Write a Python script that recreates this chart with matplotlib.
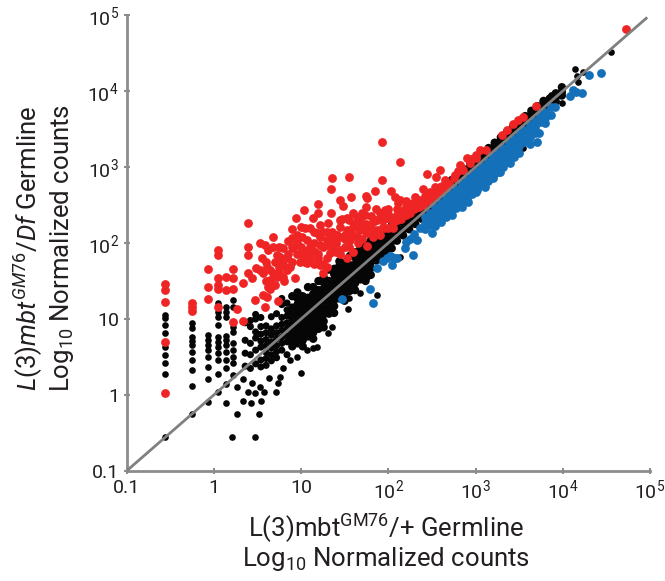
import numpy as np
import matplotlib
matplotlib.use("Agg")
import matplotlib.pyplot as plt

plt.rcParams['font.family'] = ['Roboto', 'Liberation Sans', 'DejaVu Sans']
plt.rcParams['mathtext.fontset'] = 'custom'
plt.rcParams['mathtext.rm'] = 'Roboto'
plt.rcParams['mathtext.it'] = 'Roboto:italic'

# all point values are log10 counts
# black: single points that can be made out
black_x = [-0.555]*9 + [-0.25]*10 + [-0.07]*8 + [0.045]*11 + [0.14]*11 + [0.224]*9 + [
    0.209, 0.472, 0.514, 0.27, 0.339, 0.423, 0.541, 0.472, 0.579, 0.713, 0.732, 0.759, 0.633,
    0.53, 0.434, 0.396, 0.339, 0.27, 0.793, 0.996,
    4.558, 4.142, 4.176, 4.233, 4.164, 3.996, 3.87, 3.996, 3.775, 3.546, 2.133,
    1.179, 1.312, 1.35, 1.541, 1.553, 1.675, 1.866, 1.751, 1.064, 1.14, 0.95, 0.873]
black_y = [1.053, 1.009, 0.921, 0.811, 0.636, 0.526, 0.426, 0.272, -0.557,
    0.943, 0.877, 0.768, 0.715, 0.658, 0.57, 0.461, 0.329, 0.119, -0.25,
    0.79, 0.724, 0.658, 0.592, 0.505, 0.373, 0.206, -0.088,
    1.206, 1.097, 1.022, 0.921, 0.768, 0.702, 0.636, 0.557, 0.461, 0.272, 0.044,
    1.162, 1.097, 1.031, 0.776, 0.724, 0.658, 0.57, 0.461, 0.351, 0.145, -0.109,
    1.25, 1.162, 0.899, 0.833, 0.68, 0.592, 0.505, 0.417, 0.263,
    -0.557, -0.557, -0.25, -0.25, -0.079, -0.109, -0.079, 0.031, 0.044, 0.044, 0.154, 0.233, 0.22,
    0.11, 0.154, 0.044, 0.206, 0.11, 0.351, 0.285,
    4.517, 4.285, 4.122, 4.254, 4.197, 4.035, 3.947, 3.837, 3.859, 3.245, 1.82,
    0.636, 0.81, 0.9, 1.132, 1.272, 1.338, 1.316, 1.557, 0.592, 0.614, 0.505, 0.46]

# black: the packed cloud, where points are estimated column by column
cloud_x = [0.36, 0.42, 0.48, 0.54, 0.6, 0.66, 0.72, 0.78, 0.84, 0.9, 0.96, 1.02, 1.08, 1.14, 1.2,
           1.26, 1.32, 1.38, 1.44, 1.5, 1.56, 1.62, 1.68, 1.74, 1.8, 1.86, 1.92, 1.98, 2.04, 2.1]
cloud_y = [
    [0.38, 0.55, 0.72, 0.95],
    [0.35, 0.53, 0.68, 0.9, 0.98],
    [0.41, 0.59, 0.75, 0.83, 1.0, 1.06],
    [0.37, 0.46, 0.63, 0.71, 0.8, 0.9, 1.02],
    [0.39, 0.48, 0.56, 0.65, 0.73, 0.82, 0.91],
    [0.45, 0.53, 0.62, 0.7, 0.79, 0.87, 1.03],
    [0.49, 0.57, 0.65, 0.74, 0.82, 0.91, 1.07],
    [0.59, 0.68, 0.76, 0.85, 0.93, 1.02, 1.19, 1.27],
    [0.53, 0.7, 0.78, 0.87, 0.95, 1.04, 1.12, 1.21],
    [0.64, 0.72, 0.81, 0.89, 0.98, 1.06, 1.15, 1.3],
    [0.68, 0.76, 0.85, 0.93, 1.02, 1.1, 1.19, 1.27, 1.35],
    [0.64, 0.72, 0.81, 0.89, 0.98, 1.06, 1.15, 1.23, 1.3],
    [0.77, 0.85, 0.94, 1.02, 1.11, 1.19, 1.28, 1.42],
    [0.74, 0.82, 0.91, 0.99, 1.08, 1.16, 1.25, 1.33, 1.42],
    [0.87, 0.96, 1.04, 1.13, 1.21, 1.3, 1.38, 1.5],
    [0.89, 0.97, 1.06, 1.14, 1.23, 1.31, 1.4, 1.48, 1.55],
    [1.07, 1.15, 1.24, 1.32, 1.41, 1.5, 1.65],
    [1.08, 1.17, 1.25, 1.34, 1.42, 1.51, 1.59, 1.66],
    [1.27, 1.35, 1.44, 1.52, 1.61, 1.7, 1.76],
    [1.24, 1.32, 1.41, 1.49, 1.58, 1.66, 1.74],
    [1.37, 1.46, 1.54, 1.63, 1.71, 1.83],
    [1.38, 1.47, 1.55, 1.64, 1.72, 1.81, 1.88],
    [1.52, 1.61, 1.69, 1.78, 1.86, 1.93],
    [1.5, 1.59, 1.67, 1.76, 1.84, 1.93, 1.98],
    [1.58, 1.67, 1.75, 1.84, 1.92, 2.0, 2.03],
    [1.77, 1.85, 1.94, 2.02, 2.08],
    [1.78, 1.87, 1.95, 2.04, 2.13],
    [1.84, 1.92, 2.01, 2.09, 2.18],
    [1.93, 2.02, 2.1, 2.18, 2.23],
    [2.03, 2.11, 2.2, 2.28],
]

# black: narrow part of the band, mostly hidden under the red and blue
ridge_x = [2.17, 2.24, 2.31, 2.38, 2.45, 2.52, 2.59, 2.66, 2.73, 2.8, 2.87, 2.94, 3.01, 3.08, 3.15,
           3.22, 3.29, 3.36, 3.43, 3.5, 3.57, 3.64, 3.71, 3.78, 3.85, 3.92, 3.99]
ridge_y = [
    [2.1, 2.18, 2.27, 2.34], [2.18, 2.25, 2.33, 2.4], [2.25, 2.32, 2.4, 2.46], [2.32, 2.39, 2.46, 2.52],
    [2.39, 2.46, 2.52, 2.58], [2.46, 2.52, 2.59, 2.64], [2.53, 2.59, 2.65, 2.7], [2.6, 2.66, 2.72, 2.76],
    [2.67, 2.73, 2.79, 2.83], [2.74, 2.8, 2.86, 2.9], [2.81, 2.87, 2.93, 2.97], [2.88, 2.94, 3.0, 3.04],
    [2.95, 3.01, 3.07, 3.11], [3.02, 3.08, 3.14, 3.18], [3.09, 3.15, 3.21, 3.25], [3.16, 3.22, 3.28, 3.32],
    [3.23, 3.29, 3.35, 3.39], [3.3, 3.36, 3.42, 3.46], [3.37, 3.43, 3.49, 3.53], [3.44, 3.5, 3.56, 3.6],
    [3.51, 3.57, 3.63, 3.67], [3.58, 3.64, 3.7, 3.74], [3.65, 3.71, 3.77, 3.8], [3.72, 3.78, 3.84, 3.87],
    [3.79, 3.85, 3.9], [3.86, 3.92, 3.97], [3.94, 3.99, 4.05],
]

red_x = [-0.555, -0.555, -0.555, -0.555, -0.555, -0.25, -0.25, -0.25, -0.07, -0.07, -0.07,
    0.045, 0.045, 0.045, 0.045, 0.045, 0.045, 0.14, 0.14, 0.224, 0.224, 0.224, 0.27, 0.224, 0.339, 0.339,
    0.392, 0.392, 0.392, 0.392, 0.434, 0.472, 0.484, 0.53, 0.556, 0.587, 0.675, 0.625, 0.682, 0.721, 0.789,
    0.53, 0.568, 0.606, 0.682, 0.751, 0.644, 0.721, 0.625, 0.568, 0.606, 0.587, 0.74,
    0.892, 0.892, 0.942, 0.996, 1.034, 1.007, 1.102, 1.14, 1.194, 1.194, 1.217, 1.179, 1.312, 1.339, 1.339,
    1.354, 1.553, 1.446, 1.484, 1.568, 1.744, 1.751, 1.851, 1.927, 1.927, 2.133, 2.026, 2.076, 2.133,
    1.465, 1.522, 1.637, 1.744, 1.733, 1.858, 1.962, 1.866, 1.981, 2.095, 1.79,
    0.911, 0.835, 1.045, 0.988, 1.121, 0.873, 0.797, 0.93, 1.064, 1.217, 1.293, 1.255,
    1.293, 1.408, 1.37, 1.217, 1.16, 1.446, 1.331, 1.522, 1.599, 1.675, 1.637, 1.751, 1.828, 1.522, 1.599,
    1.751, 1.942, 2.057, 1.064, 0.759, 0.835, 1.064, 1.446, 1.217, 1.56, 1.446, 1.675, 1.866, 1.942,
    2.446, 2.591, 2.649, 2.553, 2.534, 2.393, 2.305, 2.114, 2.286, 2.267, 2.381, 2.477, 2.591, 1.961,
    2.152, 2.076, 1.98, 2.763, 2.82, 2.897, 2.935, 2.859, 3.011, 3.049, 3.118, 3.298, 3.366, 3.431, 3.489,
    3.546, 3.691, 4.722, 2.2, 2.35,
    0.6, 0.65, 0.7, 0.75, 0.8, 0.85, 0.9, 0.95, 1.0, 1.05, 1.1, 1.15, 1.2, 1.25, 1.3, 1.35, 1.4, 1.45, 1.5,
    1.55, 1.6, 1.65, 1.7, 1.75, 1.8, 1.85, 1.9, 1.95, 2.0, 2.05, 2.1, 2.15, 2.2, 2.25, 2.3, 2.35, 2.4, 2.45,
    2.5, 2.55, 2.6, 2.65, 2.7, 2.75, 2.8, 2.85, 2.95, 3.0, 1.25, 1.35, 1.45, 1.55, 1.6, 1.7, 1.8, 1.9, 2.0,
    2.1, 2.2, 1.05, 1.15, 1.3, 0.95, 0.7, 0.8, 0.65, 0.6, 0.75,
    0.85, 0.95, 1.0, 1.1, 1.15, 1.25, 1.3, 1.4, 1.5, 1.4, 1.55, 1.65, 1.75, 1.85, 1.95, 2.05, 0.78, 0.9, 1.05,
    1.2, 1.35, 1.5, 1.62, 1.72, 1.82, 2.0, 2.15, 2.25, 2.42, 2.62]
red_y = [1.461, 1.382, 1.228, 0.693, 0.022, 1.215, 1.162, 1.11, 1.658, 1.426, 1.259,
    1.908, 1.838, 1.535, 1.448, 1.39, 1.154, 1.557, 1.382, 1.654, 1.535, 1.39, 1.132, 0.965, 0.97, 1.478,
    2.268, 1.943, 1.842, 1.61, 1.535, 1.25, 1.667, 1.996, 1.798, 1.974, 2.083, 1.908, 1.952, 1.842, 1.93,
    1.645, 1.601, 1.689, 1.601, 1.689, 1.513, 1.557, 1.426, 1.316, 1.294, 1.162, 1.241,
    2.18, 2.062, 2.333, 2.215, 2.434, 2.083, 2.193, 2.333, 2.513, 2.391, 2.237, 2.127, 2.268, 2.391, 2.715,
    2.851, 2.864, 2.566, 2.487, 2.61, 2.619, 2.588, 2.684, 3.329, 2.833, 3.066, 2.684, 2.61, 2.566,
    2.312, 2.325, 2.338, 2.469, 2.369, 2.443, 2.434, 2.303, 2.325, 2.369, 2.215,
    1.93, 1.798, 1.842, 1.755, 1.908, 1.689, 1.557, 1.535, 1.733, 1.711, 1.689, 1.601,
    2.04, 2.105, 1.996, 1.974, 1.886, 1.908, 1.864, 2.171, 2.215, 2.171, 2.083, 2.127, 2.083, 1.798, 1.886,
    1.961, 2.215, 2.259, 2.04, 1.82, 1.645, 1.864, 2.083, 2.08, 2.04, 2.215, 2.303, 2.171, 2.303,
    2.912, 2.96, 2.829, 2.872, 2.741, 2.71, 2.609, 2.522, 2.522, 2.456, 2.5, 2.675, 2.741, 2.425,
    2.39, 2.346, 2.324, 2.894, 3.026, 3.114, 3.048, 2.96, 3.158, 3.223, 3.223, 3.421, 3.486, 3.565, 3.618,
    3.662, 3.802, 4.815, 2.47, 2.56,
    1.75, 1.65, 1.75, 1.6, 1.7, 1.85, 1.75, 1.85, 1.95, 1.75, 1.8, 2.0, 1.85, 1.95, 1.8, 1.95, 2.0, 1.85, 1.95,
    1.95, 2.1, 2.0, 2.05, 2.25, 2.2, 2.15, 2.1, 2.2, 2.2, 2.3, 2.3, 2.32, 2.37, 2.4, 2.45, 2.48, 2.5, 2.55,
    2.6, 2.65, 2.68, 2.73, 2.78, 2.85, 2.95, 2.98, 3.1, 3.12, 2.15, 2.15, 2.3, 2.3, 2.4, 2.4, 2.35, 2.4, 2.45,
    2.45, 2.55, 2.2, 2.15, 2.15, 2.0, 1.45, 1.5, 1.4, 1.5, 1.95,
    2.02, 2.1, 1.85, 1.95, 1.72, 1.72, 1.98, 2.1, 2.1, 1.88, 2.15, 2.2, 2.15, 2.3, 2.35, 2.2, 1.75, 1.95, 1.9,
    1.8, 2.07, 2.05, 2.25, 2.22, 2.28, 2.38, 2.42, 2.5, 2.62, 2.75]

# blue: separate points around the band
blue_x = [4.298, 4.439, 4.08, 4.119, 4.226, 4.157, 3.909, 3.87, 3.775, 3.802, 3.729, 3.706, 3.622, 3.603,
    3.393, 3.279, 3.202, 3.107, 3.011, 2.916, 2.84, 2.725, 2.496, 2.324, 2.209, 2.19, 2.286, 2.038, 2.095,
    1.98, 1.465, 1.79, 1.828, 1.866, 1.942, 2.019, 2.038, 2.076, 2.36, 2.3, 2.25]
blue_y = [4.21, 4.241, 3.938, 4.013, 3.978, 3.991, 3.785, 3.684, 3.684, 3.574, 3.451, 3.333, 3.302, 3.443,
    3.048, 2.938, 2.851, 2.741, 2.675, 2.543, 2.478, 2.368, 2.127, 2.039, 2.017, 1.929, 1.842, 1.82, 1.798,
    1.798, 1.263, 1.399, 1.206, 1.676, 1.768, 1.829, 1.711, 1.798, 2.2, 2.12, 2.05]

# blue: the packed part of the band, estimated column by column
blue_band_x = [2.42, 2.48, 2.54, 2.6, 2.66, 2.72, 2.78, 2.84, 2.9, 2.96, 3.02, 3.08, 3.14, 3.2, 3.26,
               3.32, 3.38, 3.44, 3.5, 3.56, 3.62, 3.68, 3.74, 3.8, 3.86]
blue_band_y = [
    [2.34, 2.26, 2.18], [2.4, 2.32, 2.24], [2.47, 2.39, 2.31, 2.22], [2.53, 2.45, 2.37, 2.28],
    [2.59, 2.51, 2.43, 2.34], [2.65, 2.57, 2.49, 2.4], [2.71, 2.63, 2.55, 2.46], [2.77, 2.69, 2.61, 2.52],
    [2.83, 2.75, 2.67, 2.58], [2.89, 2.81, 2.73, 2.64], [2.95, 2.87, 2.79, 2.7], [3.01, 2.93, 2.85, 2.76],
    [3.07, 2.99, 2.91, 2.82], [3.13, 3.05, 2.97, 2.88], [3.19, 3.11, 3.03, 2.94], [3.25, 3.17, 3.09, 3.0],
    [3.31, 3.23, 3.15, 3.07], [3.37, 3.29, 3.21, 3.13], [3.43, 3.35, 3.27, 3.19], [3.49, 3.41, 3.33],
    [3.55, 3.47, 3.39], [3.61, 3.53, 3.45], [3.67, 3.59], [3.73, 3.65], [3.79],
]

line_ends = [0.1, 93000]
tick_vals = [0.1, 1, 10, 1e2, 1e3, 1e4, 1e5]
tick_labels = ['0.1', '1', '10', r'10$^{2}$', r'10$^{3}$', r'10$^{4}$', r'10$^{5}$']

all_black_x = [x for x, col in zip(cloud_x, cloud_y) for _ in col] + [x for x, col in zip(ridge_x, ridge_y) for _ in col]
all_black_y = [y for col in cloud_y for y in col] + [y for col in ridge_y for y in col]
all_blue_x = blue_x + [x for x, col in zip(blue_band_x, blue_band_y) for _ in col]
all_blue_y = blue_y + [y for col in blue_band_y for y in col]
# points get smaller at the loose left end of the cloud
black_sizes = [26 if x < 0.9 else 36 for x in all_black_x]

W, H = 665, 581
fig = plt.figure(figsize=(W/100, H/100), dpi=100)
ax = fig.add_axes([126.5/W, (H-471)/H, 523.5/W, 456/H])
ax.set_xscale('log')
ax.set_yscale('log')
ax.set_xlim(0.1, 1e5)
ax.set_ylim(0.1, 1e5)

ax.scatter(10.0**np.array(black_x), 10.0**np.array(black_y), s=23, c='#060606', linewidths=0, zorder=2)
ax.scatter(10.0**np.array(all_black_x), 10.0**np.array(all_black_y), s=black_sizes, c='#060606', linewidths=0, zorder=2)
ax.scatter(10.0**np.array(red_x), 10.0**np.array(red_y), s=40, c='#ee2524', linewidths=0, zorder=3)
ax.scatter(10.0**np.array(all_blue_x), 10.0**np.array(all_blue_y), s=40, c='#1470b8', linewidths=0, zorder=3)
ax.plot(line_ends, line_ends, color='#808080', lw=2, zorder=4, solid_capstyle='butt')

ax.spines['top'].set_visible(False)
ax.spines['right'].set_visible(False)
ax.spines['left'].set_color('#8c8c8c')
ax.spines['bottom'].set_color('#8c8c8c')
ax.spines['left'].set_linewidth(2)
ax.spines['bottom'].set_linewidth(2)
ax.minorticks_off()
ax.set_xticks(tick_vals)
ax.set_xticklabels(tick_labels)
ax.set_yticks(tick_vals)
ax.set_yticklabels(tick_labels)
ax.tick_params(axis='both', which='major', direction='inout', length=5, width=1.5, color='#8c8c8c',
               labelsize=14, labelcolor='#231f20', pad=3)
ax.tick_params(which='minor', length=0)

fig.text(386/W, 1-528/H, r'L(3)mbt$^{\mathrm{GM76}}$/+ Germline', ha='center', va='center', fontsize=18.5, color='#231f20')
fig.text(386/W, 1-559/H, r'Log$_{10}$ Normalized counts', ha='center', va='center', fontsize=18.5, color='#231f20')
fig.text(28/W, 1-248/H, r'$\mathit{L(3)mbt}^{\mathit{GM76}}\mathit{/Df}$ Germline', rotation=90, ha='center', va='center', fontsize=18.5, color='#231f20')
fig.text(62/W, 1-248/H, r'Log$_{10}$ Normalized counts', rotation=90, ha='center', va='center', fontsize=18.5, color='#231f20')

fig.savefig('out.png', dpi=100)
